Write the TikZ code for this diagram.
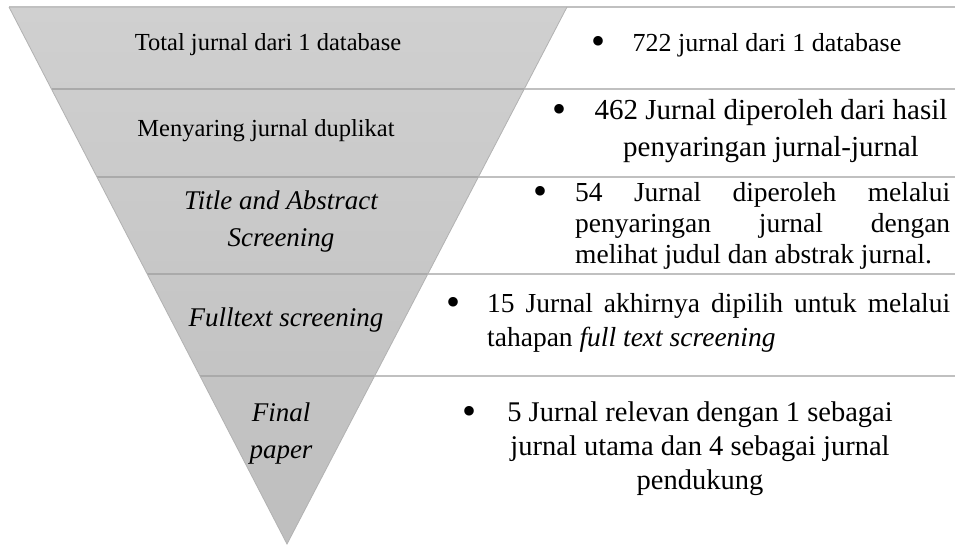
\documentclass[tikz,border=0pt]{standalone}
\usepackage{fontspec}
\setmainfont{Liberation Serif}
\definecolor{funtop}{RGB}{208,208,208}
\definecolor{funbot}{RGB}{190,190,190}
\definecolor{funedge}{RGB}{178,178,178}
\definecolor{sepin}{RGB}{170,170,170}
\definecolor{sepout}{RGB}{192,192,192}
\tikzset{
  sepline/.style={draw=sepout, line width=1.4pt},
  sepinner/.style={draw=sepin, line width=1.2pt},
  lt/.style={inner sep=0pt, font=\fontsize{24.5}{37}\selectfont},
  li/.style={inner sep=0pt, align=center, font=\fontsize{27}{37}\selectfont\itshape},
  bul/.style={inner sep=0pt, font=\fontsize{40}{40}\selectfont},
  rt/.style={inner sep=0pt}
}
\begin{document}
\begin{tikzpicture}[x=1pt,y=-1pt]
\useasboundingbox[fill=white] (0,0) rectangle (955,544);
% funnel corners
\coordinate (TL) at (9,7);
\coordinate (TR) at (567,7);
\coordinate (AP) at (287,544);
\shade[top color=funtop, bottom color=funbot] (TL) -- (TR) -- (AP) -- cycle;
% separator ends
\coordinate (a1) at (51.5,89);  \coordinate (b1) at (524,89);  \coordinate (c1) at (955,89);
\coordinate (a2) at (97,177);   \coordinate (b2) at (478,177);   \coordinate (c2) at (955,177);
\coordinate (a3) at (147,274);  \coordinate (b3) at (428,274);   \coordinate (c3) at (955,274);
\coordinate (a4) at (200,376);  \coordinate (b4) at (375,376);   \coordinate (c4) at (955,376);
\coordinate (c0) at (955,7);
\foreach \i in {1,2,3,4}{
  \draw[sepinner] (a\i) -- (b\i);
  \draw[sepline] (b\i) -- (c\i);
}
\draw[sepline] (TL) -- (c0);
\draw[draw=funedge, line width=0.8pt] (TL) -- (AP) -- (TR);
% left labels
\node[lt] (l1) at (268,45) {Total jurnal dari 1 database};
\node[lt] (l2) at (266,131) {Menyaring jurnal duplikat};
\node[li] (l3) at (281,222) {Title and Abstract\\Screening};
\node[li] (l4) at (286,320) {Fulltext screening};
\node[li] (l5) at (281,433) {Final\\paper};
% bullets
\node[bul] (b1n) at (598,45) {•};
\node[bul] (b2n) at (559,113) {•};
\node[bul] (b3n) at (540,195) {•};
\node[bul] (b4n) at (453,306) {•};
\node[bul] (b5n) at (469,415) {•};
% right texts
\node[rt, font=\fontsize{26}{30}\selectfont] (r1) at (767,45) {722 jurnal dari 1 database};
\node[rt, align=center, font=\fontsize{29}{37}\selectfont] (r2) at (771,131.5) {462 Jurnal diperoleh dari hasil\\penyaringan jurnal-jurnal};
\node[rt, anchor=west, align=left, font=\fontsize{27.5}{31}\selectfont] (r3) at (575,226) {\makebox[375pt][s]{54 Jurnal diperoleh melalui}\\\makebox[375pt][s]{penyaringan jurnal dengan}\\melihat judul dan abstrak jurnal.};
\node[rt, anchor=west, align=left, font=\fontsize{27.5}{34}\selectfont] (r4) at (487,323) {\makebox[463pt][s]{15 Jurnal akhirnya dipilih untuk melalui}\\tahapan \textit{full text screening}};
\node[rt, align=center, font=\fontsize{28.5}{34}\selectfont] (r5) at (700,449) {5 Jurnal relevan dengan 1 sebagai\\jurnal utama dan 4 sebagai jurnal\\pendukung};
\end{tikzpicture}
\end{document}
